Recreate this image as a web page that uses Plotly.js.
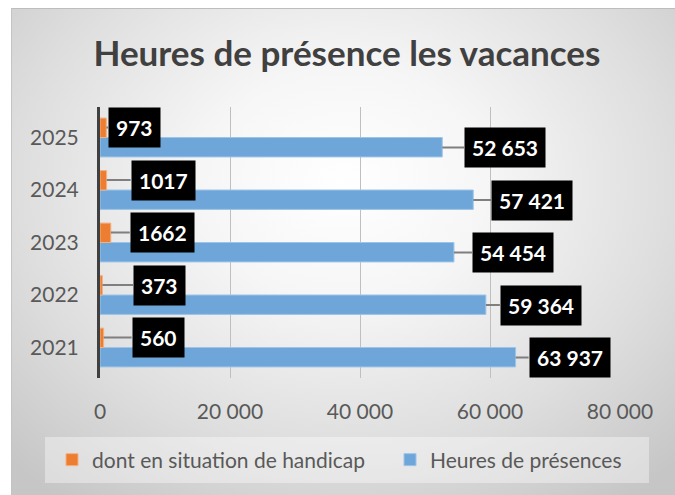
<!DOCTYPE html>
<html>
<head>
<meta charset="utf-8">
<script src="https://cdn.plot.ly/plotly-3.0.1.min.js"></script>
<style>
  html, body { margin: 0; padding: 0; background: #ffffff; }
  #wrap { position: relative; width: 675px; height: 495px; overflow: hidden; }
  #bg {
    position: absolute; left: 11px; top: 8px; right: 0; bottom: 0;
    border-top: 1px solid #bdbdbd; border-left: 1px solid #c4c4c4;
    background: radial-gradient(ellipse 72% 80% at 50% 36%, #ffffff 0%, #f6f6f6 30%, #dedede 68%, #c6c6c6 100%);
  }
  #chart { position: absolute; left: 0; top: 0; width: 675px; height: 495px; }
</style>
</head>
<body>
<div id="wrap">
  <div id="bg"></div>
  <div id="chart"></div>
</div>
<script>
// ---- data ----
const years = ['2021', '2022', '2023', '2024', '2025'];
const heuresPresences = [63937, 59364, 54454, 57421, 52653];
const handicap = [560, 373, 1662, 1017, 973];
const seriesNames = ['dont en situation de handicap', 'Heures de présences'];
const xTickVals = [0, 20000, 40000, 60000, 80000];

// label nudges (pixels between bar end and label box) - styling only
const gapHandicap = [28, 31, 19, 24, 2];
const gapPresences = [13, 14, 18, 18, 22];

function groupThousands(v) {
  return String(v).replace(/\B(?=(\d{3})+(?!\d))/g, ' ');
}

const FONT = 'Lato, "Open Sans", sans-serif';
const ORANGE = '#ED7D31';
const BLUE = '#6FA6D9';

const traces = [
  {
    type: 'bar', orientation: 'h', name: seriesNames[1],
    y: years, x: heuresPresences, legend: 'legend2',
    marker: { color: BLUE, line: { color: '#9cc4e8', width: 1 } },
    hoverinfo: 'skip'
  },
  {
    type: 'bar', orientation: 'h', name: seriesNames[0],
    y: years, x: handicap, legend: 'legend',
    marker: { color: ORANGE, line: { color: '#f4b183', width: 1 } },
    hoverinfo: 'skip'
  }
];

const annotations = [];
function addLabels(values, gaps, yshift, fmt) {
  values.forEach((v, i) => {
    annotations.push({
      x: v, y: i, xref: 'x', yref: 'y',
      text: '<b>' + fmt(v) + '</b>',
      showarrow: true, arrowhead: 0, arrowwidth: 2, arrowcolor: '#7f7f7f',
      ax: gaps[i], ay: 0, xanchor: 'left', yanchor: 'middle',
      yshift: yshift,
      bgcolor: '#000000', borderpad: 7,
      font: { family: FONT, size: 21, color: '#ffffff' }
    });
  });
}
addLabels(handicap, gapHandicap, 10, v => String(v));
addLabels(heuresPresences, gapPresences, -10, groupThousands);

const legendCommon = {
  orientation: 'h',
  xref: 'container', yref: 'container',
  xanchor: 'left', y: 1 - 460 / 495, yanchor: 'middle',
  bgcolor: 'rgba(0,0,0,0)',
  font: { family: FONT, size: 21, color: '#595959' }
};

const layout = {
  width: 675, height: 495,
  paper_bgcolor: 'rgba(0,0,0,0)', plot_bgcolor: 'rgba(0,0,0,0)',
  margin: { l: 100, r: 55, t: 107, b: 117, autoexpand: false },
  separators: ', ',
  barmode: 'group', bargap: 0.26, bargroupgap: 0,
  title: {
    text: '<b>Heures de présence les vacances</b>',
    font: { family: FONT, size: 35, color: '#404040' },
    x: 0.514, xref: 'container', xanchor: 'center',
    y: 1 - 54 / 495, yref: 'container', yanchor: 'middle'
  },
  xaxis: {
    range: [0, 80000], tickvals: xTickVals, tickformat: ',d',
    showgrid: true, gridcolor: '#bfbfbf', gridwidth: 1,
    zeroline: false, showline: false,
    ticks: 'outside', ticklen: 15, tickcolor: 'rgba(0,0,0,0)',
    tickfont: { family: FONT, size: 21, color: '#595959' },
    fixedrange: true
  },
  yaxis: {
    type: 'category', categoryorder: 'array', categoryarray: years,
    showline: true, linecolor: '#404040', linewidth: 3,
    showgrid: false, zeroline: false,
    ticks: 'outside', ticklen: 14, tickcolor: 'rgba(0,0,0,0)',
    tickfont: { family: FONT, size: 21, color: '#595959' },
    fixedrange: true
  },
  showlegend: true,
  legend: Object.assign({}, legendCommon, { x: 52 / 675 }),
  legend2: Object.assign({}, legendCommon, { x: 390 / 675 }),
  shapes: [{
    type: 'rect', layer: 'below', xref: 'paper', yref: 'paper',
    x0: 0, x1: 1, y0: 0, y1: 0,
    fillcolor: 'rgba(255,255,255,0.38)', line: { width: 0 }
  }],
  annotations: annotations
};
// legend backdrop box, anchored to its pixel box in the page
const plotL = layout.margin.l, plotW = 675 - layout.margin.l - layout.margin.r;
const plotTop = layout.margin.t, plotBottom = 495 - layout.margin.b, plotH = plotBottom - plotTop;
layout.shapes[0].x0 = (45 - plotL) / plotW;
layout.shapes[0].x1 = (649 - plotL) / plotW;
layout.shapes[0].y0 = (plotBottom - 483) / plotH;
layout.shapes[0].y1 = (plotBottom - 437) / plotH;

Plotly.newPlot('chart', traces, layout, { displayModeBar: false, staticPlot: true });
</script>
</body>
</html>
